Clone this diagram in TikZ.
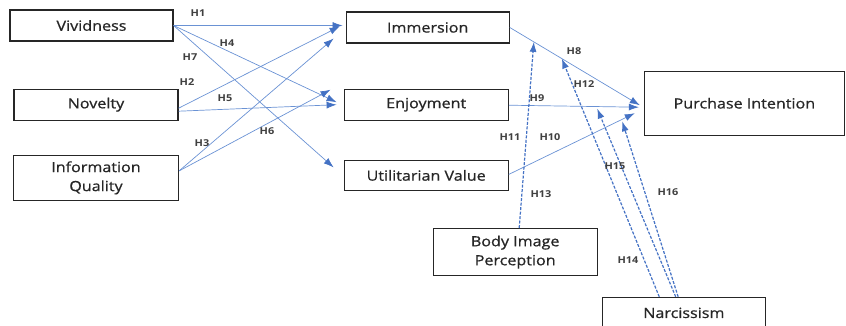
\documentclass[tikz,border=0pt]{standalone}
\usepackage{fontspec}
\setmainfont{Open Sans}[FakeStretch=1.15]
\newfontfamily\boxfont{Open Sans}[FakeStretch=1.15, FakeBold=0.8]
\usepackage{tikz}
\usetikzlibrary{positioning,arrows.meta,calc}
\definecolor{lineblue}{HTML}{6A92D4}
\definecolor{tipblue}{HTML}{4472C4}
\definecolor{txtgray}{HTML}{262626}

\begin{document}
\begin{tikzpicture}[
  x=1pt, y=-1pt,
  box/.style={draw=black!85, line width=1.2pt, minimum width=164pt, minimum height=31pt, inner sep=2pt, align=center, text=txtgray, font=\boxfont\fontsize{14}{19}\selectfont},
  arr/.style={lineblue, line width=0.7pt, -{Latex[length=10pt,width=7pt,color=tipblue]}},
  modarr/.style={tipblue, line width=1.2pt, dash pattern=on 3pt off 1.5pt, -{Latex[length=10pt,width=7pt]}},
  hlab/.style={text=black!75, font=\fontsize{9.5}{10}\selectfont\bfseries, inner sep=0pt},
]
  \useasboundingbox (0,0) rectangle (846,325);
  % antecedents
  \node[box, minimum width=163pt] (viv) at (91.5,25.5) {Vividness};
  \node[box, below=47pt of viv, xshift=4.5pt] (nov) {Novelty};
  \node[box, below=34pt of nov, minimum width=165pt, minimum height=45pt] (info) {Information\\Quality};
  % mediators
  \node[box, minimum width=163pt, right=172pt of viv, yshift=-2pt] (imm) {Immersion};
  \node[box, below=45pt of imm, xshift=-1.5pt] (enj) {Enjoyment};
  \node[box, below=39pt of enj, minimum height=30pt] (util) {Utilitarian Value};
  % outcome and moderators
  \node[box, right=135pt of enj, yshift=1.5pt, minimum width=200pt, minimum height=64pt] (pi) {Purchase Intention};
  \node[box, below=37pt of util, xshift=89pt, minimum height=47pt] (body) {Body Image\\Perception};
  \node[box, minimum width=163pt, below=161pt of pi, xshift=-60.5pt] (narc) {Narcissism};

  \draw[arr] (viv.east) -- ([xshift=-3pt,yshift=2pt]imm.west);
  \draw[arr] ([yshift=-3.5pt]nov.east) -- ([xshift=-6pt,yshift=1pt]imm.west);
  \draw[arr] ([yshift=7pt]info.east) -- ([xshift=-12pt,yshift=-11pt]imm.west);
  \draw[arr] (viv.east) -- ([xshift=-7pt,yshift=2.5pt]enj.west);
  \draw[arr] ([yshift=-6.5pt]nov.east) -- ([xshift=-7pt]enj.west);
  \draw[arr] ([yshift=7pt]info.east) -- ([xshift=-13pt,yshift=15pt]enj.west);
  \draw[arr] (viv.east) -- ([xshift=-10pt,yshift=8pt]util.west);

  \coordinate (h8s) at (imm.east);
  \coordinate (h8e) at ([xshift=-4pt,yshift=-2pt]pi.west);
  \coordinate (h9s) at ([yshift=-0.5pt]enj.east);
  \coordinate (h9e) at ([xshift=-5pt,yshift=-4pt]pi.west);
  \coordinate (h10s) at ([yshift=1pt]util.east);
  \coordinate (h10e) at ([xshift=-9pt,yshift=-10pt]pi.west);
  \draw[arr] (h8s) -- (h8e);
  \draw[arr] (h9s) -- (h9e);
  \draw[arr] (h10s) -- (h10e);

  \draw[modarr] ([xshift=4pt]body.north) -- ($(h8s)!0.185!(h8e)$);
  \draw[modarr] ($(narc.north west)!0.35!(narc.north east)$) -- ($(h8s)!0.4!(h8e)$);
  \draw[modarr] ($(narc.north west)!0.45!(narc.north east)$) -- ([yshift=-2pt]$(h9s)!0.68!(h9e)$);
  \draw[modarr] ($(narc.north west)!0.465!(narc.north east)$) -- ([yshift=-2pt]$(h10s)!0.9!(h10e)$);

  % path labels
  \node[hlab] (lh1) at (198,13) {H1};
  \node[hlab] (lh2) at (187,82) {H2};
  \node[hlab] (lh3) at (202,143) {H3};
  \node[hlab] (lh4) at (227,43) {H4};
  \node[hlab] (lh5) at (225,98) {H5};
  \node[hlab] (lh6) at (267,131) {H6};
  \node[hlab] (lh7) at (190,57) {H7};
  \node[hlab] (lh8) at (574,51) {H8};
  \node[hlab] (lh9) at (537,98) {H9};
  \node[hlab] (lh10) at (550,137) {H10};
  \node[hlab] (lh11) at (510,137) {H11};
  \node[hlab] (lh12) at (584,84) {H12};
  \node[hlab] (lh13) at (541,194) {H13};
  \node[hlab] (lh14) at (628,260) {H14};
  \node[hlab] (lh15) at (615,166) {H15};
  \node[hlab] (lh16) at (668,192) {H16};
\end{tikzpicture}
\end{document}
